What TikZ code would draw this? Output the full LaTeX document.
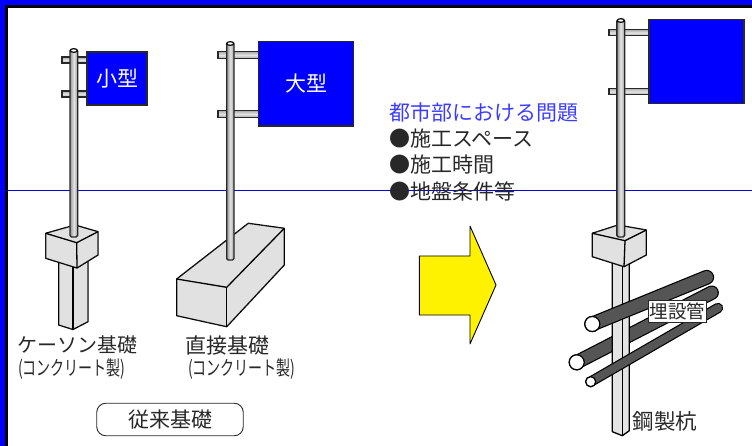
\documentclass[tikz,border=0pt]{standalone}
\usepackage{fontspec}
\usetikzlibrary{patterns.meta}
\setmainfont{Noto Sans CJK JP}
\newfontfamily\narrowcjk[FakeStretch=0.7]{Noto Sans CJK JP}
\definecolor{niceblue}{RGB}{0, 0, 255}
\definecolor{lineblue}{RGB}{0, 0, 220}
\definecolor{titleblue}{RGB}{60, 60, 255}
\definecolor{inkgray}{RGB}{40, 40, 40}
\definecolor{polegray}{RGB}{150, 150, 150}
\definecolor{steelgray}{RGB}{228, 228, 228}
\definecolor{pipegray}{RGB}{85, 85, 85}
\tikzset{
	sign/.style = {draw = inkgray, fill = niceblue, line width = 1.3pt, text = white, inner sep = 0pt, font = \fontsize{21}{21}\selectfont},
	crossbar/.style = {draw = inkgray, line width = 1.4pt, top color = polegray!80, bottom color = polegray!80, middle color = steelgray},
	pole/.style = {draw = inkgray, line width = 1.4pt, left color = polegray, right color = polegray, middle color = steelgray, rounded corners = 1.5pt},
	poletop/.style = {draw = black, line width = 1.2pt, fill = white},
	concrete/.style = {draw = black, line width = 1.3pt, line join = round, fill = white, postaction = {pattern = {Dots[distance = 2pt, radius = 0.62pt]}, pattern color = gray}},
	steel/.style = {draw = black, line width = 1.3pt, line join = round, fill = steelgray},
	pipe/.style = {draw = black, line width = 1.2pt, double = pipegray, line cap = round},
	pipemouth/.style = {circle, draw = black, line width = 1.2pt, fill = white, inner sep = 0pt},
	caption/.style = {text = inkgray, inner sep = 0pt, anchor = west, font = \fontsize{21}{21}\selectfont},
	subcaption/.style = {text = inkgray, inner sep = 0pt, anchor = west, font = \narrowcjk\fontsize{20}{20}\selectfont}
}
\begin{document}
\begin{tikzpicture}[x = 1pt, y = -1pt]
	\useasboundingbox (0,0) rectangle (752,446);
	% frame and rule
	\fill[niceblue] (0,0) rectangle (752,5);
	\fill[niceblue] (0,0) rectangle (5,446);
	\fill[black] (5,5) rectangle (752,8);
	\fill[black] (5,5) rectangle (7.5,446);
	\draw[lineblue, line width = 1pt] (7,191) -- (752,191);
	% small sign on caisson
	\draw[concrete] (58.7,255) -- (58.7,325) -- (73,329.5) -- (88,321.7) -- (88,255) -- cycle;
	\draw[black, line width = 1.3pt] (73,260) -- (73,329.5);
	\draw[concrete] (45.7,233.3) -- (75,225) -- (98,231.7) -- (98,255) -- (77,268) -- (45.7,258.3) -- cycle;
	\draw[black, line width = 1.3pt] (45.7,233.3) -- (76.7,242.7) -- (98,231.7);
	\draw[black, line width = 1.3pt] (76.7,242.7) -- (77,268);
	\draw[crossbar] (62,57) rectangle (88,63);
	\draw[crossbar] (62,91) rectangle (88,97);
	\node (smallsign) at (117,78.5) [sign, minimum width = 60pt, minimum height = 53pt] {小型};
	\draw[pole] (70,50) rectangle (77.7,237);
	\draw[poletop] (73.8,50.5) ellipse (3.6 and 1.8);
	% large sign on spread footing
	\draw[concrete] (176.7,279) -- (248.3,223.3) -- (284.3,228.3) -- (284.3,265) -- (226.7,326.7) -- (176.7,315.7) -- cycle;
	\draw[black, line width = 1.3pt] (176.7,279) -- (226.7,287.3) -- (284.3,228.3);
	\draw[black, line width = 1.3pt] (226.7,287.3) -- (226.7,326.7);
	\draw[crossbar] (218,51.7) rectangle (259,58.3);
	\draw[crossbar] (218,110.7) rectangle (259,117.3);
	\node (largesign) at (306,84) [sign, minimum width = 95.4pt, minimum height = 84.3pt] {大型};
	\draw[pole] (226.7,43) rectangle (234,260);
	\draw[poletop] (230.3,43.5) ellipse (3.6 and 1.8);
	% captions on the left
	\node (caisson) at (17,345) [caption, font = \fontsize{20}{20}\selectfont] {ケーソン基礎};
	\node (caissonsub) at (18,369.5) [subcaption] {(コンクリート製)};
	\node (footing) at (185,345) [caption] {直接基礎};
	\node (footingsub) at (188,369.5) [subcaption] {(コンクリート製)};
	\node (oldtype) at (170,419.5) [draw = inkgray, line width = 0.9pt, rounded corners = 9pt, minimum width = 146.5pt, minimum height = 32.5pt, inner sep = 0pt, text = inkgray, font = \fontsize{21}{21}\selectfont] {従来基礎};
	% problems and arrow
	\node (problem) at (389,113) [caption, text = titleblue] {都市部における問題};
	\node (space) at (389,139) [caption] {●施工スペース};
	\node (time) at (389,165) [caption] {●施工時間};
	\node (ground) at (389,191.5) [caption] {●地盤条件等};
	\draw[draw = black, fill = yellow, line width = 0.9pt, line join = round] (419.3,256) -- (470,256) -- (470,226) -- (496,285) -- (470,344) -- (470,315) -- (419.3,315) -- cycle;
	% steel pile with buried pipes
	\node (pipeBend) at (576.7,362.3) [pipemouth, minimum size = 15pt] {};
	\draw[pipe, double distance = 12pt] (pipeBend.center) -- (711.7,292.7);
	\node (pipeBmouth) at (576.7,362.3) [pipemouth, minimum size = 15pt] {};
	\draw[steel] (612.3,260) -- (612.3,431.7) -- (622.3,435.7) -- (629.3,430.7) -- (629.3,260) -- cycle;
	\draw[black, line width = 1.3pt] (622.3,262) -- (622.3,435.7);
	\draw[concrete] (592.3,233.3) -- (618,225) -- (646.3,230) -- (646.3,255) -- (624,266.7) -- (592.3,256.7) -- cycle;
	\draw[black, line width = 1.3pt] (592.3,233.3) -- (625,240.7) -- (646.3,230);
	\draw[black, line width = 1.3pt] (625,240.7) -- (624,266.7);
	\node (pipeAend) at (592.3,324) [pipemouth, minimum size = 15pt] {};
	\draw[pipe, double distance = 12.5pt] (pipeAend.center) -- (706.7,277.3);
	\node (pipeAmouth) at (592.3,324) [pipemouth, minimum size = 15pt] {};
	\node (pipeCend) at (590.7,381.7) [pipemouth, minimum size = 10pt] {};
	\draw[pipe, double distance = 8pt] (pipeCend.center) -- (718,308);
	\node (pipeCmouth) at (590.7,381.7) [pipemouth, minimum size = 10pt] {};
	\draw[crossbar] (609,29.7) rectangle (650,35.7);
	\draw[crossbar] (609,88.3) rectangle (650,94.7);
	\node (plainsign) at (696.5,61.5) [sign, minimum width = 95pt, minimum height = 84.4pt] {};
	\draw[pole] (616.9,20) rectangle (624.7,237);
	\draw[poletop] (620.8,20.5) ellipse (3.6 and 1.8);
	\node (buried) at (677.5,311) [draw = inkgray, fill = white, line width = 0.8pt, minimum width = 58.5pt, minimum height = 22pt, inner sep = 0pt, text = inkgray, font = \fontsize{18.5}{18.5}\selectfont] {埋設管};
	\node (steelpile) at (632.5,421) [caption, font = \fontsize{21.5}{21.5}\selectfont] {鋼製杭};
\end{tikzpicture}
\end{document}
